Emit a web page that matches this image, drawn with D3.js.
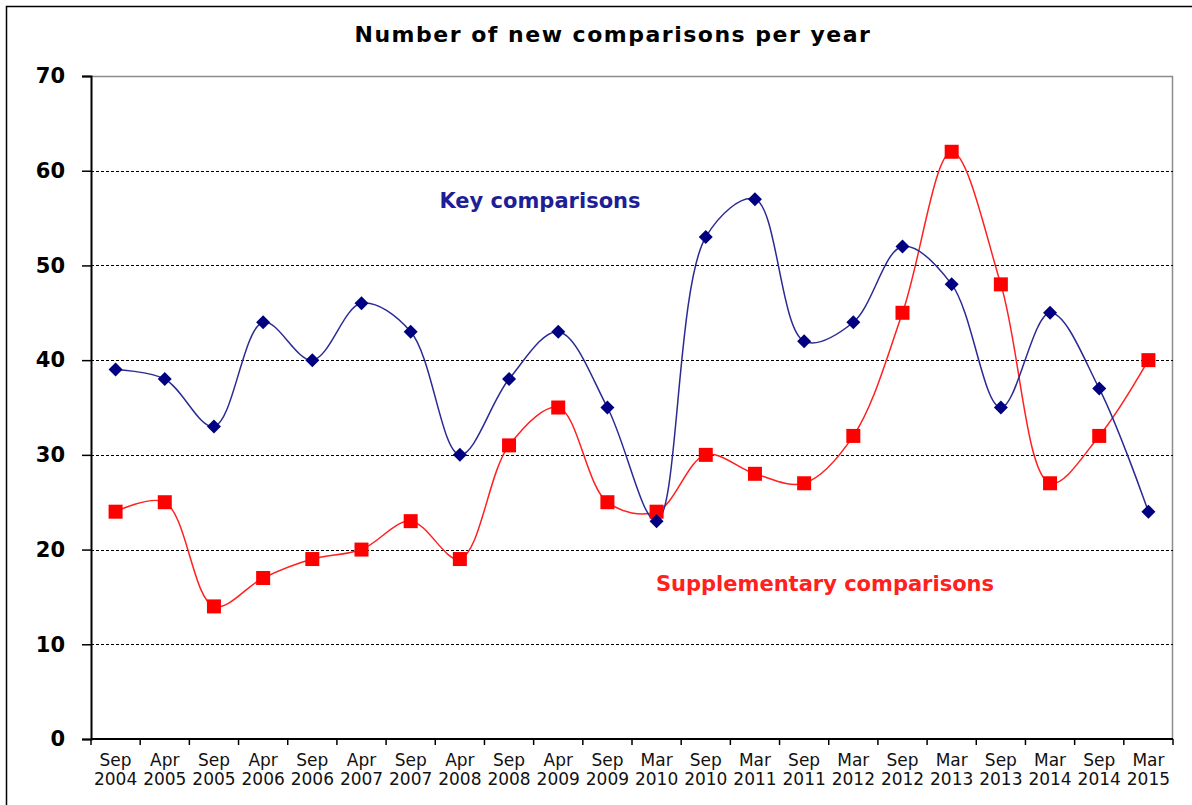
<!DOCTYPE html>
<html>
<head>
<meta charset="utf-8">
<script src="https://cdn.jsdelivr.net/npm/d3@7"></script>
<style>
  html, body { margin: 0; padding: 0; background: #fff; }
  svg { display: block; }
</style>
</head>
<body>
<div id="chart"></div>
<script>
// data
const months = ["Sep", "Apr", "Sep", "Apr", "Sep", "Apr", "Sep", "Apr", "Sep", "Apr", "Sep",
                "Mar", "Sep", "Mar", "Sep", "Mar", "Sep", "Mar", "Sep", "Mar", "Sep", "Mar"];
const years = ["2004", "2005", "2005", "2006", "2006", "2007", "2007", "2008", "2008", "2009", "2009",
               "2010", "2010", "2011", "2011", "2012", "2012", "2013", "2013", "2014", "2014", "2015"];
const keyValues = [39, 38, 33, 44, 40, 46, 43, 30, 38, 43, 35, 23, 53, 57, 42, 44, 52, 48, 35, 45, 37, 24];
const suppValues = [24, 25, 14, 17, 19, 20, 23, 19, 31, 35, 25, 24, 30, 28, 27, 32, 45, 62, 48, 27, 32, 40];
const yTicks = [0, 10, 20, 30, 40, 50, 60, 70];

const width = 1192, height = 805;
const margin = {top: 76, right: 19, bottom: 66, left: 91};
const innerW = width - margin.left - margin.right;
const innerH = height - margin.top - margin.bottom;
const font = "'DejaVu Sans', Verdana, sans-serif";

const categories = months.map((m, i) => i);

const svg = d3.select("#chart").append("svg")
    .attr("width", width)
    .attr("height", height);

// outer frame
svg.append("rect")
    .attr("x", 6.5).attr("y", 6.5)
    .attr("width", width + 20).attr("height", height + 20)
    .attr("fill", "none")
    .attr("stroke", "#000")
    .attr("stroke-width", 1.5);

// title
svg.append("text")
    .attr("x", 613)
    .attr("y", 42)
    .attr("text-anchor", "middle")
    .style("font-family", font)
    .style("font-weight", "bold")
    .style("font-size", "22px")
    .style("letter-spacing", "1.5px")
    .text("Number of new comparisons per year");

const g = svg.append("g")
    .attr("transform", `translate(${margin.left},${margin.top})`);

const x = d3.scaleBand()
    .domain(categories)
    .range([0, innerW]);

const y = d3.scaleLinear()
    .domain([0, 70])
    .range([innerH, 0]);

// plot area border (top and right)
g.append("path")
    .attr("d", `M0,0.5H${innerW - 0.5}V${innerH}`)
    .attr("fill", "none")
    .attr("stroke", "#8c8c8c")
    .attr("stroke-width", 1.5);

// dashed gridlines
g.append("g")
    .selectAll("line")
    .data(yTicks.filter(d => d > 0 && d < 70))
    .join("line")
    .attr("x1", 0)
    .attr("x2", innerW)
    .attr("y1", d => Math.round(y(d)) + 0.5)
    .attr("y2", d => Math.round(y(d)) + 0.5)
    .attr("stroke", "#000")
    .attr("stroke-width", 1)
    .attr("stroke-dasharray", "3,2");

// y axis
const yAxis = g.append("g")
    .call(d3.axisLeft(y).tickValues(yTicks).tickSize(9).tickPadding(17));
yAxis.select(".domain").attr("stroke", "#000").attr("stroke-width", 2);
yAxis.selectAll(".tick line").attr("stroke", "#000").attr("stroke-width", 1.5);
yAxis.selectAll(".tick text")
    .style("font-family", font)
    .style("font-weight", "bold")
    .style("font-size", "21px")
    .attr("fill", "#000");

// x axis: ticks on category boundaries
const xAxis = g.append("g")
    .attr("transform", `translate(0,${innerH})`);
xAxis.append("line")
    .attr("x1", 0).attr("x2", innerW)
    .attr("y1", 0).attr("y2", 0)
    .attr("stroke", "#000")
    .attr("stroke-width", 2);
xAxis.selectAll(".xtick")
    .data(categories.concat([categories.length]))
    .join("line")
    .attr("class", "xtick")
    .attr("x1", d => d < categories.length ? x(d) : innerW)
    .attr("x2", d => d < categories.length ? x(d) : innerW)
    .attr("y1", 0)
    .attr("y2", 6)
    .attr("stroke", "#000")
    .attr("stroke-width", 1.5);

const xLabels = xAxis.selectAll(".xlabel")
    .data(categories)
    .join("text")
    .attr("class", "xlabel")
    .attr("text-anchor", "middle")
    .attr("transform", d => `translate(${x(d) + x.bandwidth() / 2},0)`)
    .style("font-family", font)
    .style("font-size", "17px")
    .attr("fill", "#111");
xLabels.append("tspan").attr("x", 0).attr("y", 27).text(d => months[d]);
xLabels.append("tspan").attr("x", 0).attr("y", 46).text(d => years[d]);

const cx = i => x(i) + x.bandwidth() / 2;

const line = d3.line()
    .x((d, i) => cx(i))
    .y(d => y(d))
    .curve(d3.curveCatmullRom.alpha(0.5));

// supplementary comparisons
g.append("path")
    .datum(suppValues)
    .attr("d", line)
    .attr("fill", "none")
    .attr("stroke", "#ff2020")
    .attr("stroke-width", 1.5);

// key comparisons
g.append("path")
    .datum(keyValues)
    .attr("d", line)
    .attr("fill", "none")
    .attr("stroke", "#2a2a95")
    .attr("stroke-width", 1.5);

g.selectAll(".supp")
    .data(suppValues)
    .join("rect")
    .attr("class", "supp")
    .attr("x", (d, i) => cx(i) - 7)
    .attr("y", d => y(d) - 7)
    .attr("width", 14)
    .attr("height", 14)
    .attr("fill", "#ff0000");

g.selectAll(".key")
    .data(keyValues)
    .join("path")
    .attr("class", "key")
    .attr("transform", (d, i) => `translate(${cx(i)},${y(d)})`)
    .attr("d", "M0,-7L7,0L0,7L-7,0Z")
    .attr("fill", "#000080");

// series labels
svg.append("text")
    .attr("x", 540)
    .attr("y", 208)
    .attr("text-anchor", "middle")
    .style("font-family", font)
    .style("font-weight", "bold")
    .style("font-size", "21px")
    .attr("fill", "#1e1e96")
    .text("Key comparisons");

svg.append("text")
    .attr("x", 825)
    .attr("y", 591)
    .attr("text-anchor", "middle")
    .style("font-family", font)
    .style("font-weight", "bold")
    .style("font-size", "21px")
    .attr("fill", "#ff2020")
    .text("Supplementary comparisons");
</script>
</body>
</html>
